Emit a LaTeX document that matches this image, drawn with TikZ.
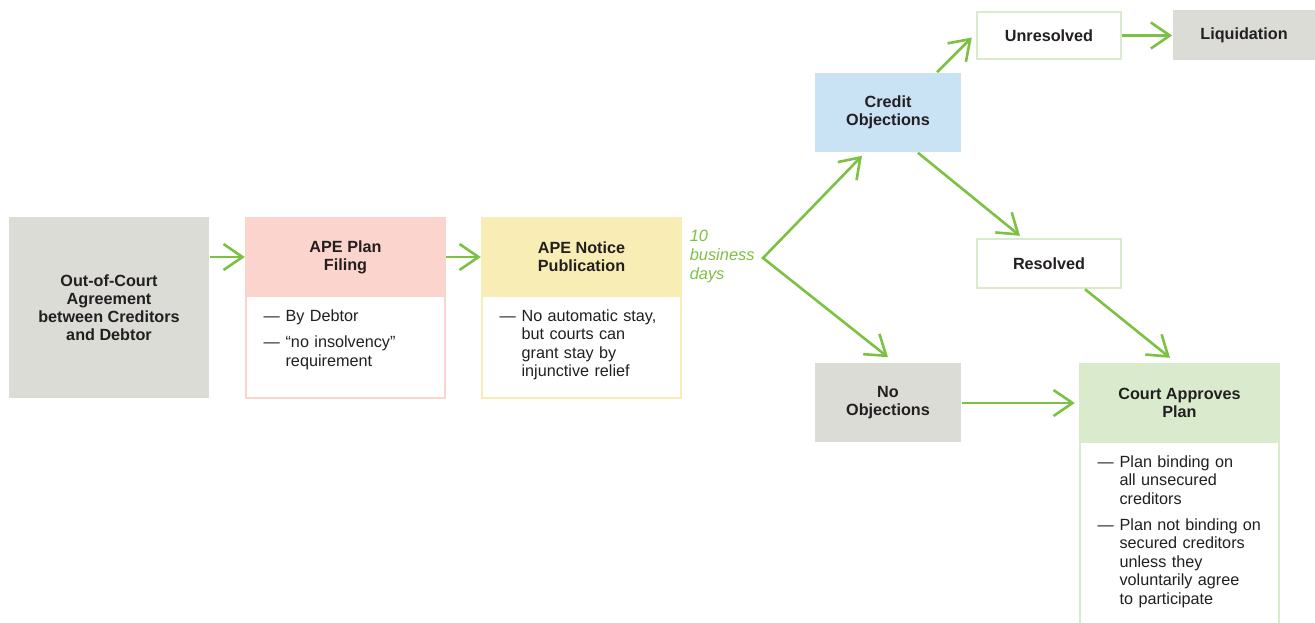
\documentclass[tikz,border=0pt]{standalone}
\usepackage{fontspec}
\setmainfont{Liberation Sans}
\usetikzlibrary{arrows.meta,positioning}

\definecolor{ink}{HTML}{231F20}
\definecolor{flowgreen}{HTML}{7CC142}
\definecolor{boxgrey}{HTML}{DCDCD7}
\definecolor{planpink}{HTML}{FBD5CD}
\definecolor{noticeyellow}{HTML}{F8EEB5}
\definecolor{objblue}{HTML}{C9E2F4}
\definecolor{courtgreen}{HTML}{D9EBCC}

\newcommand{\boxfont}{\fontsize{8.1}{9}\selectfont\bfseries}
\newcommand{\notefont}{\fontsize{8.1}{9.2}\selectfont}
\newcommand{\dashitem}[1]{\leftskip=11pt\noindent\llap{\makebox[11pt][l]{---}}#1\par}
\newcommand{\itemgap}{\vspace{4pt}}

\begin{document}
\begin{tikzpicture}[x=0.5pt,y=-0.5pt,thick,
    >={Straight Barb[length=9.5pt,width=13pt]},
    box/.style={rectangle,inner sep=0pt,align=center,text=ink,font=\boxfont},
    grey node/.style={box,fill=boxgrey},
    head node/.style={box,line width=1.2pt,minimum width=99.5pt,minimum height=39pt},
    body node/.style={rectangle,fill=white,line width=1.2pt,minimum width=99.5pt,below=-1.2pt of #1},
    note/.style={inner sep=0pt,text width=88pt,align=left,text=ink,font=\notefont},
    days/.style={inner sep=0pt,anchor=west,align=left,text=flowgreen,
                 font=\fontsize{8.2}{9.5}\selectfont\itshape},
    flow/.style={draw=flowgreen,line width=1.3pt,->}]
  \useasboundingbox (0,0) rectangle (1315,622);
  \clip (0,0) rectangle (1315,622);

  %filing and notice%
  \node[grey node,minimum width=100pt,minimum height=90.5pt] (agree) at (109,307.5)
    {Out-of-Court\\Agreement\\between Creditors\\and Debtor};
  \node[head node,fill=planpink,draw=planpink] (planhead) at (345.5,257) {APE Plan\\Filing};
  \node[body node=planhead,draw=planpink,minimum height=51pt] (planbody) {};
  \node[note,below right=7pt and 9pt of planbody.north west] (plannote)
    {\dashitem{By Debtor}\itemgap\dashitem{``no insolvency''\\requirement}};

  \node[head node,fill=noticeyellow,draw=noticeyellow] (noticehead) at (581.5,257) {APE Notice\\Publication};
  \node[body node=noticehead,draw=noticeyellow,minimum height=51pt] (noticebody) {};
  \node[note,below right=7pt and 9pt of noticebody.north west] (noticenote)
    {\dashitem{No automatic stay,\\but courts can\\grant stay by\\injunctive relief}};

  \node[days] (days) at (689,256) {10\\business\\days};
  \coordinate (fork) at (763,258);

  %objections%
  \node[box,fill=objblue,minimum width=73pt,minimum height=39.5pt] (credit) at (888,112.5) {Credit\\Objections};
  \node[grey node,minimum width=73pt,minimum height=39.5pt] (noobj) at (888,402.5) {No\\Objections};
  \node[box,fill=white,draw=courtgreen,line width=1.2pt,minimum width=72pt,minimum height=23.5pt] (unres) at (1049,35.5) {Unresolved};
  \node[grey node,minimum width=71pt,minimum height=25pt] (liquid) at (1244,35) {Liquidation};
  \node[box,fill=white,draw=courtgreen,line width=1.2pt,minimum width=72pt,minimum height=24.5pt] (resolved) at (1049,263.5) {Resolved};

  %court%
  \node[head node,fill=courtgreen,draw=courtgreen] (courthead) at (1179.5,403) {Court Approves\\Plan};
  \node[body node=courthead,draw=courtgreen,minimum height=95pt] (courtbody) {};
  \node[note,below right=7pt and 9pt of courtbody.north west] (courtnote)
    {\dashitem{Plan binding on\\all unsecured\\creditors}\itemgap\dashitem{Plan not binding on\\secured creditors\\unless they\\voluntarily agree\\to participate}};

  \path[every edge/.style={flow}]
    (agree.east |- planhead) edge (planhead.west)
    (planhead) edge (noticehead)
    ([xshift=24.5pt]credit.north) edge ([xshift=-2pt,yshift=-1pt]unres.west)
    (unres.east) edge (liquid.west |- unres)
    ([xshift=15pt]credit.south) edge ([xshift=-14.5pt,yshift=1pt]resolved.north)
    ([xshift=18pt]resolved.south) edge ([xshift=-4.75pt,yshift=2.5pt]courthead.north)
    (noobj.east |- courthead) edge ([xshift=-2pt]courthead.west);
  \draw[flow,<->] ([xshift=-13pt,yshift=-1.5pt]credit.south) -- (fork) -- ([yshift=2.5pt]noobj.north);
\end{tikzpicture}
\end{document}
